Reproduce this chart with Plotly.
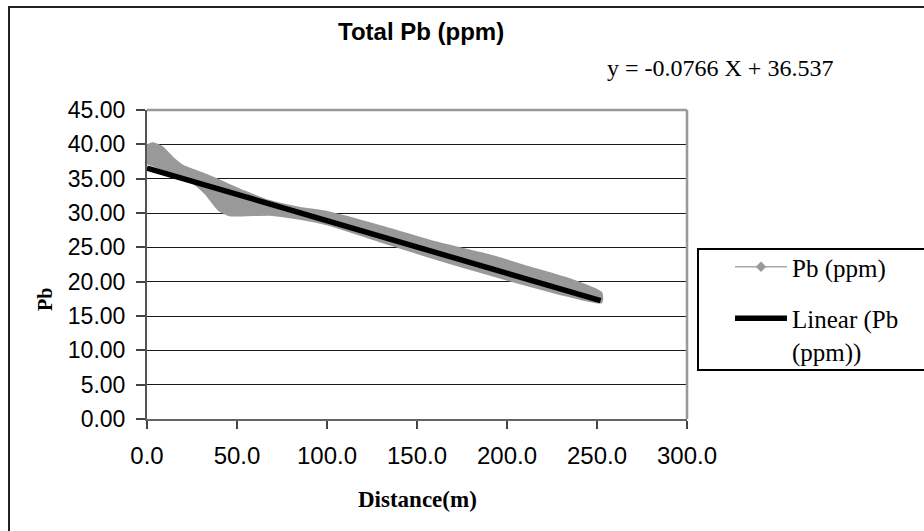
import plotly.graph_objects as go

# ---- data ----
distance_m = [0, 3, 8, 14, 20, 26, 33, 40, 46, 55, 68, 85, 100, 130, 160, 190, 213, 235, 252]
pb_upper = [39.7, 40.0, 39.5, 37.9, 36.7, 36.1, 35.4, 34.6, 33.9, 32.9, 31.6, 30.6, 30.0, 27.9, 25.6, 23.7, 21.9, 20.2, 18.3]
pb_lower = [37.4, 37.1, 36.6, 36.0, 35.3, 34.5, 32.9, 30.6, 29.8, 29.8, 29.9, 29.3, 28.5, 26.0, 23.5, 21.2, 19.5, 18.0, 17.1]

trend_slope = -0.0766
trend_intercept = 36.537
trend_x = [0.0, 252.0]

x_ticks = [0, 50, 100, 150, 200, 250, 300]
y_ticks = [0, 5, 10, 15, 20, 25, 30, 35, 40, 45]

# ---- layout geometry (pixels) ----
W, H = 924, 531
L, R, T, B = 147, 687, 110, 419


def px(xp):
    return (xp - L) / (R - L)


def py(yp):
    return (B - yp) / (B - T)


SANS = "Liberation Sans, Arial, sans-serif"
SERIF = "Liberation Serif, Times New Roman, serif"
GRAY = "#999999"

fig = go.Figure()

band_x = distance_m + distance_m[::-1]
band_y = pb_upper + pb_lower[::-1]
fig.add_trace(go.Scatter(
    x=band_x, y=band_y, mode="lines", fill="toself", fillcolor=GRAY,
    line=dict(color=GRAY, width=4, shape="spline", smoothing=0.5),
    showlegend=False, hoverinfo="skip"))

fig.add_trace(go.Scatter(
    x=[None], y=[None], mode="lines+markers", name="Pb (ppm)", legendgroup="a",
    line=dict(color="#a8a8a8", width=1.5),
    marker=dict(symbol="diamond", size=8, color=GRAY)))

trend_y = [trend_intercept + trend_slope * v for v in trend_x]
fig.add_trace(go.Scatter(
    x=trend_x, y=trend_y, mode="lines", name="Linear (Pb<br>(ppm))", legendgroup="b",
    line=dict(color="black", width=5.5)))

fig.update_layout(
    width=W, height=H,
    margin=dict(l=L, r=W - R, t=T, b=H - B),
    paper_bgcolor="white", plot_bgcolor="white",
    showlegend=True,
    legend=dict(
        x=px(730), y=py(244), xanchor="left", yanchor="top",
        borderwidth=0, bgcolor="rgba(0,0,0,0)",
        font=dict(family=SERIF, size=25, color="black"),
        itemwidth=52, tracegroupgap=16, valign="top",
    ),
    xaxis=dict(
        range=[0, 300], tickvals=x_ticks, tickformat=".1f",
        showgrid=False, zeroline=False,
        showline=True, linecolor="#666666", linewidth=2,
        ticks="outside", ticklen=8, tickwidth=1.5, tickcolor="#444444",
        ticklabelstandoff=6,
        tickfont=dict(family=SANS, size=24, color="black"),
    ),
    yaxis=dict(
        range=[0, 45], tickvals=y_ticks, tickformat=".2f",
        showgrid=True, gridcolor="#1a1a1a", gridwidth=1, zeroline=False,
        showline=True, linecolor="#555555", linewidth=2,
        ticks="outside", ticklen=9, tickwidth=1.5, tickcolor="#444444",
        ticklabelstandoff=6,
        tickfont=dict(family=SANS, size=23, color="black"),
    ),
    shapes=[
        dict(type="line", xref="paper", yref="paper", x0=0, x1=1, y0=1, y1=1,
             line=dict(color="#999999", width=2.5)),
        dict(type="line", xref="paper", yref="paper", x0=1, x1=1, y0=0, y1=1,
             line=dict(color="#999999", width=2.5)),
        dict(type="rect", xref="paper", yref="paper",
             x0=px(9), x1=px(940), y0=py(545), y1=py(7),
             line=dict(color="#222222", width=2)),
        dict(type="rect", xref="paper", yref="paper",
             x0=px(698), x1=px(940), y0=py(370), y1=py(249),
             line=dict(color="black", width=2)),
    ],
    annotations=[
        dict(text="<b>Total Pb (ppm)</b>", x=px(421), y=py(32), xref="paper", yref="paper",
             showarrow=False, xanchor="center", yanchor="middle",
             font=dict(family=SANS, size=24, color="black")),
        dict(text="y = -0.0766 X + 36.537", x=px(720), y=py(68), xref="paper", yref="paper",
             showarrow=False, xanchor="center", yanchor="middle",
             font=dict(family=SERIF, size=24, color="black")),
        dict(text="<b>Distance(m)</b>", x=px(417), y=py(499), xref="paper", yref="paper",
             showarrow=False, xanchor="center", yanchor="middle",
             font=dict(family=SERIF, size=23, color="black")),
        dict(text="<b>Pb</b>", x=px(45), y=py(300), xref="paper", yref="paper",
             showarrow=False, xanchor="center", yanchor="middle", textangle=-90,
             font=dict(family=SERIF, size=20, color="black")),
    ],
)

fig.write_html("out.html")
